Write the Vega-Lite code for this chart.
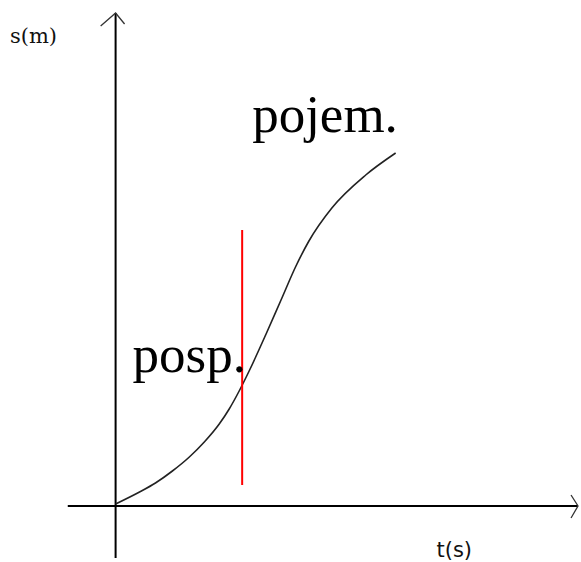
{
  "$schema": "https://vega.github.io/schema/vega-lite/v6.json",
  "width": 581,
  "height": 562,
  "padding": 0,
  "autosize": {"type": "fit", "contains": "padding"},
  "background": "white",
  "config": {"view": {"stroke": null}},
  "encoding": {
    "x": {"field": "t", "type": "quantitative", "scale": {"domain": [-2.32, 9.3], "nice": false, "zero": false}, "axis": null},
    "y": {"field": "s", "type": "quantitative", "scale": {"domain": [-1.12, 10.12], "nice": false, "zero": false}, "axis": null}
  },
  "layer": [
    {
      "data": {"values": [
        {"t": 0, "s": -1.04, "t2": 0, "s2": 9.86},
        {"t": -0.96, "s": 0, "t2": 9.28, "s2": 0}
      ]},
      "mark": {"type": "rule", "color": "#000", "strokeWidth": 2},
      "encoding": {"x2": {"field": "t2"}, "y2": {"field": "s2"}}
    },
    {
      "data": {"values": [
        {"arrow": "s", "k": 0, "t": -0.3, "s": 9.6},
        {"arrow": "s", "k": 1, "t": 0, "s": 9.86},
        {"arrow": "s", "k": 2, "t": 0.18, "s": 9.64},
        {"arrow": "t", "k": 0, "t": 9.14, "s": 0.22},
        {"arrow": "t", "k": 1, "t": 9.28, "s": 0},
        {"arrow": "t", "k": 2, "t": 9.14, "s": -0.24}
      ]},
      "mark": {"type": "line", "color": "#333", "strokeWidth": 1.3},
      "encoding": {"detail": {"field": "arrow"}, "order": {"field": "k"}}
    },
    {
      "data": {"values": [
        {"k": 0, "t": 0, "s": 0.04},
        {"k": 1, "t": 0.48, "s": 0.28},
        {"k": 2, "t": 0.8, "s": 0.46},
        {"k": 3, "t": 1.14, "s": 0.7},
        {"k": 4, "t": 1.48, "s": 0.98},
        {"k": 5, "t": 1.78, "s": 1.28},
        {"k": 6, "t": 2.08, "s": 1.64},
        {"k": 7, "t": 2.28, "s": 1.94},
        {"k": 8, "t": 2.48, "s": 2.3},
        {"k": 9, "t": 2.68, "s": 2.7},
        {"k": 10, "t": 3.02, "s": 3.44},
        {"k": 11, "t": 3.32, "s": 4.12},
        {"k": 12, "t": 3.62, "s": 4.8},
        {"k": 13, "t": 3.88, "s": 5.3},
        {"k": 14, "t": 4.34, "s": 5.96},
        {"k": 15, "t": 5.02, "s": 6.62},
        {"k": 16, "t": 5.62, "s": 7.06}
      ]},
      "mark": {"type": "line", "color": "#222", "strokeWidth": 1.6, "interpolate": "monotone"},
      "encoding": {"order": {"field": "k"}}
    },
    {
      "data": {"values": [{"t": 2.54, "s": 0.42, "s2": 5.52}]},
      "mark": {"type": "rule", "color": "#ff0000", "strokeWidth": 2},
      "encoding": {"y2": {"field": "s2"}}
    },
    {
      "data": {"values": [
        {"t": 0.34, "s": 2.68, "label": "posp."},
        {"t": 2.74, "s": 7.48, "label": "pojem."}
      ]},
      "mark": {"type": "text", "font": "Liberation Serif", "fontSize": 53, "align": "left", "baseline": "alphabetic", "color": "black"},
      "encoding": {"text": {"field": "label"}}
    },
    {
      "data": {"values": [{"t": -2.12, "s": 9.26, "label": "s(m)"}]},
      "mark": {"type": "text", "font": "DejaVu Serif", "fontSize": 21, "align": "left", "baseline": "alphabetic", "color": "#111"},
      "encoding": {"text": {"field": "label"}}
    },
    {
      "data": {"values": [{"t": 6.44, "s": -1.02, "label": "t(s)"}]},
      "mark": {"type": "text", "font": "DejaVu Sans", "fontSize": 21, "align": "left", "baseline": "alphabetic", "color": "#111"},
      "encoding": {"text": {"field": "label"}}
    }
  ]
}
